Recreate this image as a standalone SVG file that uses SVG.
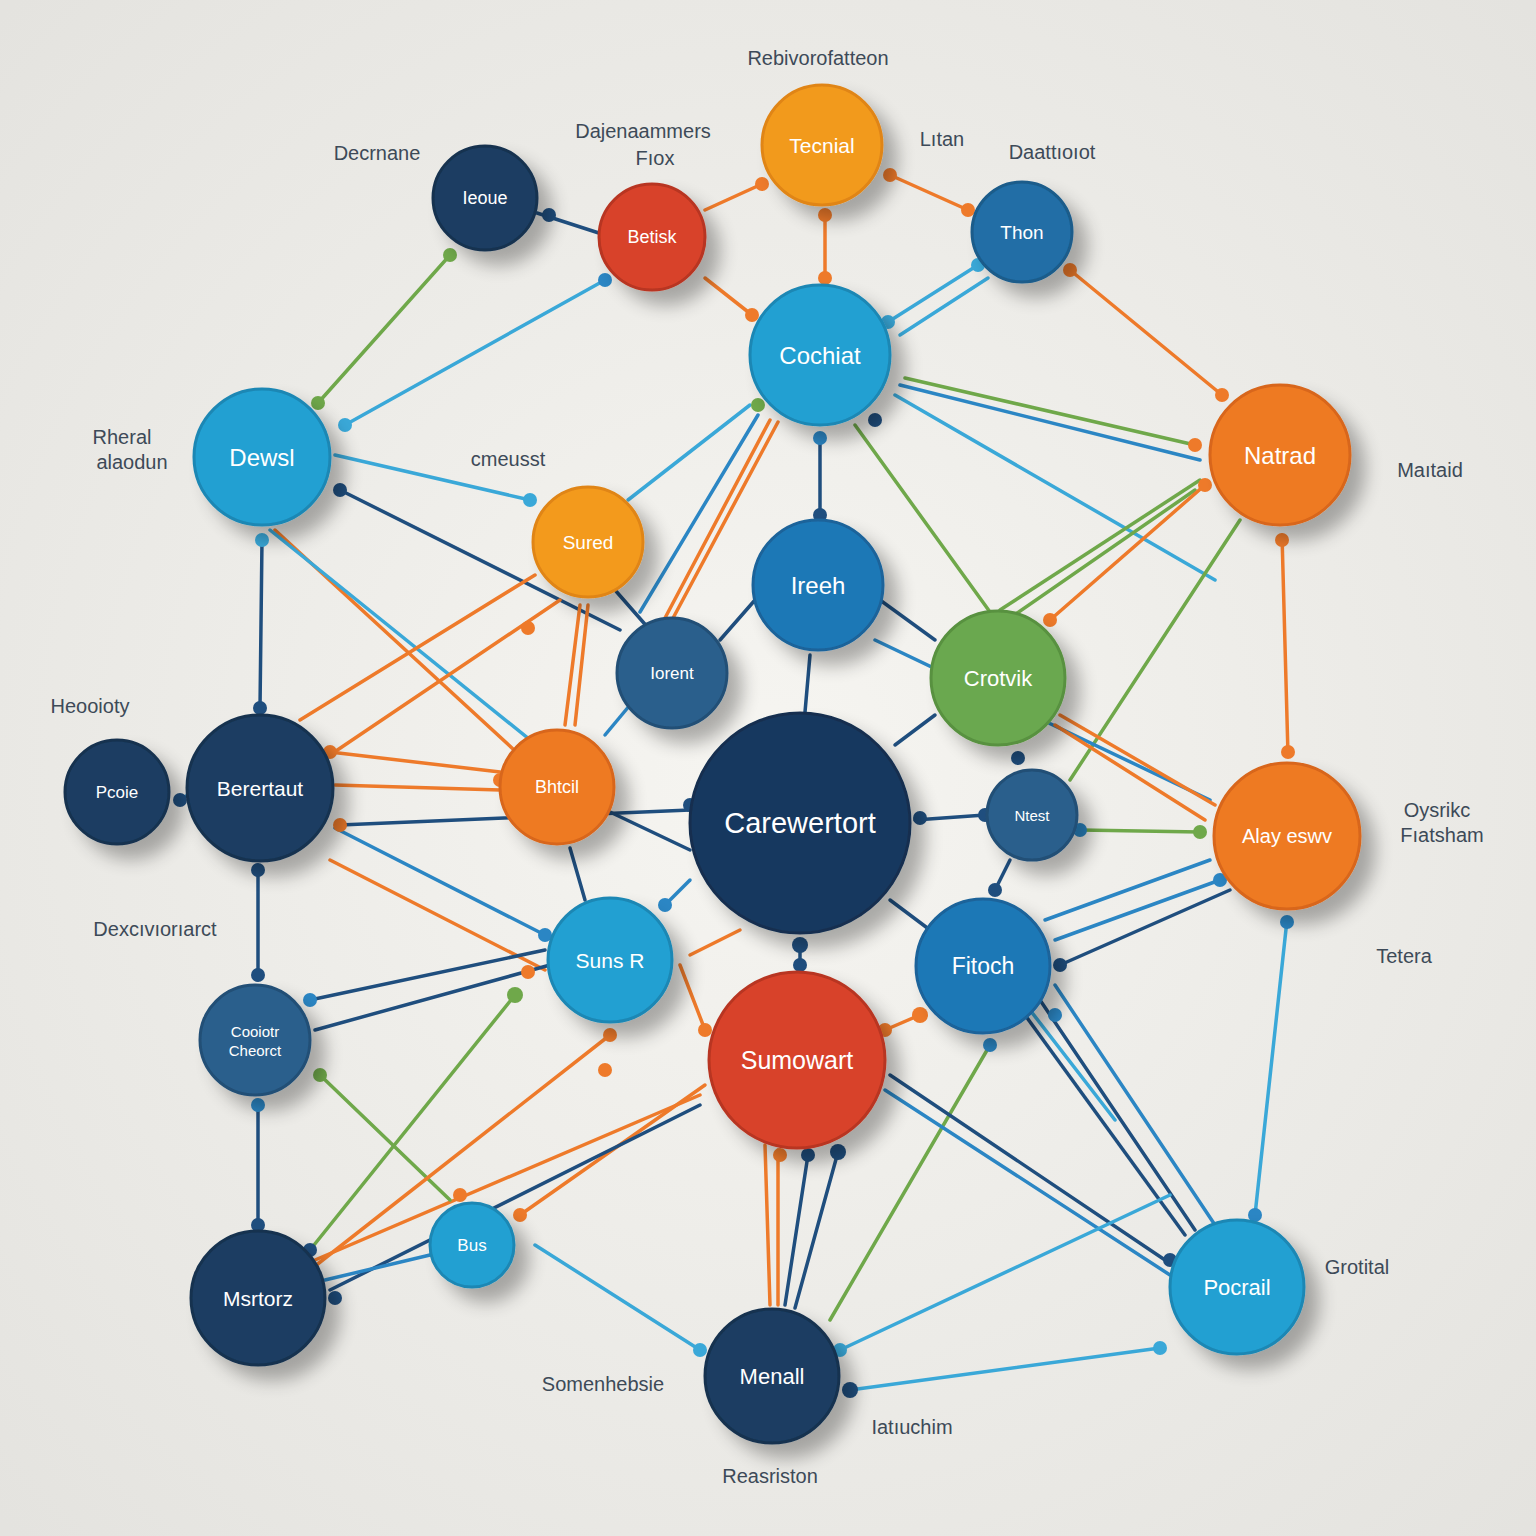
<svg xmlns="http://www.w3.org/2000/svg" width="1536" height="1536" viewBox="0 0 1536 1536">
<defs>
<radialGradient id="bg" cx="50%" cy="50%" r="70%"><stop offset="0" stop-color="#f6f5f1"/><stop offset="1" stop-color="#e4e3df"/></radialGradient>
<filter id="sh" x="-40%" y="-40%" width="190%" height="190%"><feGaussianBlur in="SourceAlpha" stdDeviation="9"/><feOffset dx="14" dy="14"/><feComponentTransfer><feFuncA type="linear" slope="0.3"/></feComponentTransfer><feMerge><feMergeNode/><feMergeNode in="SourceGraphic"/></feMerge></filter>
<style>
.n{filter:url(#sh);stroke-width:3}
.t{font-family:"Liberation Sans",Arial,sans-serif;fill:#fff;text-anchor:middle;dominant-baseline:central}
.l{font-family:"Liberation Sans",Arial,sans-serif;fill:#3d4a58;font-size:20px;text-anchor:middle}
.e line{stroke-width:3.5;stroke-linecap:round}
.nv{stroke:#1f4e7e}.bl{stroke:#2b86c4}.lb{stroke:#3aa8d8}.or{stroke:#ee7a2a}.gr{stroke:#6fa84a}
</style>
</defs>
<rect width="1536" height="1536" fill="url(#bg)"/>
<g id="connectors" class="e">
<line class="nv" x1="537" y1="213" x2="605" y2="235"/>
<line class="gr" x1="450" y1="255" x2="318" y2="403"/>
<line class="lb" x1="605" y1="280" x2="345" y2="425"/>
<line class="or" x1="705" y1="210" x2="762" y2="184"/>
<line class="or" x1="705" y1="278" x2="752" y2="315"/>
<line class="or" x1="825" y1="215" x2="825" y2="278"/>
<line class="or" x1="890" y1="175" x2="968" y2="210"/>
<line class="lb" x1="978" y1="265" x2="888" y2="322"/>
<line class="lb" x1="988" y1="278" x2="900" y2="335"/>
<line class="or" x1="1070" y1="270" x2="1222" y2="395"/>
<line class="gr" x1="905" y1="378" x2="1195" y2="445"/>
<line class="bl" x1="900" y1="385" x2="1200" y2="460"/>
<line class="lb" x1="895" y1="395" x2="1215" y2="580"/>
<line class="nv" x1="820" y1="438" x2="820" y2="515"/>
<line class="lb" x1="750" y1="405" x2="628" y2="500"/>
<line class="bl" x1="758" y1="415" x2="640" y2="612"/>
<line class="or" x1="770" y1="420" x2="665" y2="618"/>
<line class="or" x1="778" y1="422" x2="672" y2="620"/>
<line class="gr" x1="855" y1="425" x2="990" y2="612"/>
<line class="lb" x1="335" y1="455" x2="530" y2="500"/>
<line class="nv" x1="340" y1="490" x2="620" y2="630"/>
<line class="or" x1="275" y1="530" x2="525" y2="760"/>
<line class="lb" x1="270" y1="530" x2="555" y2="760"/>
<line class="nv" x1="262" y1="540" x2="260" y2="708"/>
<line class="or" x1="300" y1="720" x2="535" y2="575"/>
<line class="or" x1="330" y1="755" x2="560" y2="600"/>
<line class="nv" x1="615" y1="590" x2="650" y2="630"/>
<line class="or" x1="580" y1="605" x2="565" y2="725"/>
<line class="or" x1="588" y1="605" x2="575" y2="725"/>
<line class="gr" x1="1240" y1="520" x2="1070" y2="780"/>
<line class="gr" x1="1200" y1="480" x2="1000" y2="610"/>
<line class="gr" x1="1195" y1="490" x2="1010" y2="618"/>
<line class="or" x1="1205" y1="485" x2="1050" y2="620"/>
<line class="or" x1="1282" y1="535" x2="1288" y2="755"/>
<line class="nv" x1="810" y1="655" x2="805" y2="712"/>
<line class="nv" x1="755" y1="600" x2="720" y2="640"/>
<line class="nv" x1="880" y1="600" x2="935" y2="640"/>
<line class="bl" x1="875" y1="640" x2="1210" y2="800"/>
<line class="or" x1="1060" y1="715" x2="1215" y2="805"/>
<line class="or" x1="1055" y1="725" x2="1205" y2="820"/>
<line class="nv" x1="935" y1="715" x2="895" y2="745"/>
<line class="bl" x1="630" y1="705" x2="605" y2="735"/>
<line class="bl" x1="180" y1="800" x2="188" y2="795"/>
<line class="or" x1="330" y1="752" x2="500" y2="772"/>
<line class="or" x1="335" y1="785" x2="500" y2="790"/>
<line class="bl" x1="335" y1="828" x2="545" y2="935"/>
<line class="or" x1="330" y1="860" x2="545" y2="970"/>
<line class="nv" x1="340" y1="825" x2="690" y2="810"/>
<line class="nv" x1="258" y1="870" x2="258" y2="975"/>
<line class="nv" x1="610" y1="812" x2="690" y2="850"/>
<line class="nv" x1="570" y1="848" x2="585" y2="900"/>
<line class="nv" x1="915" y1="820" x2="985" y2="815"/>
<line class="nv" x1="800" y1="940" x2="800" y2="970"/>
<line class="nv" x1="890" y1="900" x2="930" y2="930"/>
<line class="bl" x1="690" y1="880" x2="665" y2="905"/>
<line class="gr" x1="1080" y1="830" x2="1200" y2="832"/>
<line class="nv" x1="1010" y1="860" x2="995" y2="890"/>
<line class="bl" x1="1045" y1="920" x2="1210" y2="860"/>
<line class="bl" x1="1055" y1="940" x2="1220" y2="880"/>
<line class="nv" x1="1060" y1="965" x2="1230" y2="890"/>
<line class="lb" x1="1287" y1="920" x2="1255" y2="1215"/>
<line class="or" x1="920" y1="1015" x2="885" y2="1030"/>
<line class="nv" x1="1040" y1="1000" x2="1195" y2="1230"/>
<line class="nv" x1="1025" y1="1015" x2="1185" y2="1235"/>
<line class="bl" x1="1055" y1="985" x2="1215" y2="1225"/>
<line class="lb" x1="1030" y1="1010" x2="1115" y2="1120"/>
<line class="gr" x1="990" y1="1045" x2="830" y2="1320"/>
<line class="or" x1="765" y1="1145" x2="770" y2="1305"/>
<line class="or" x1="778" y1="1150" x2="778" y2="1305"/>
<line class="nv" x1="808" y1="1155" x2="785" y2="1305"/>
<line class="nv" x1="838" y1="1152" x2="795" y2="1308"/>
<line class="or" x1="705" y1="1085" x2="520" y2="1215"/>
<line class="or" x1="700" y1="1095" x2="315" y2="1260"/>
<line class="nv" x1="700" y1="1105" x2="330" y2="1290"/>
<line class="nv" x1="890" y1="1075" x2="1165" y2="1260"/>
<line class="bl" x1="885" y1="1090" x2="1170" y2="1275"/>
<line class="nv" x1="545" y1="950" x2="310" y2="1000"/>
<line class="nv" x1="550" y1="965" x2="315" y2="1030"/>
<line class="or" x1="680" y1="965" x2="705" y2="1030"/>
<line class="or" x1="740" y1="930" x2="690" y2="955"/>
<line class="nv" x1="258" y1="1105" x2="258" y2="1225"/>
<line class="gr" x1="320" y1="1075" x2="450" y2="1200"/>
<line class="bl" x1="325" y1="1280" x2="430" y2="1255"/>
<line class="gr" x1="310" y1="1250" x2="515" y2="995"/>
<line class="or" x1="310" y1="1270" x2="610" y2="1035"/>
<line class="lb" x1="535" y1="1245" x2="700" y2="1350"/>
<line class="lb" x1="840" y1="1350" x2="1170" y2="1195"/>
<line class="lb" x1="850" y1="1390" x2="1160" y2="1348"/>
</g>
<g id="dots" fill="#2b86c4">
<circle cx="450" cy="255" r="7" fill="#6fa84a"/><circle cx="318" cy="403" r="7" fill="#6fa84a"/>
<circle cx="605" cy="280" r="7"/><circle cx="345" cy="425" r="7" fill="#3aa8d8"/>
<circle cx="762" cy="184" r="7" fill="#ee7a2a"/><circle cx="825" cy="278" r="7" fill="#ee7a2a"/><circle cx="825" cy="215" r="7" fill="#ee7a2a"/>
<circle cx="968" cy="210" r="7" fill="#ee7a2a"/><circle cx="890" cy="175" r="7" fill="#ee7a2a"/>
<circle cx="1070" cy="270" r="7" fill="#ee7a2a"/><circle cx="1222" cy="395" r="7" fill="#ee7a2a"/>
<circle cx="752" cy="315" r="7" fill="#ee7a2a"/><circle cx="549" cy="215" r="7" fill="#1f4e7e"/>
<circle cx="820" cy="438" r="7"/><circle cx="820" cy="515" r="7" fill="#1f4e7e"/>
<circle cx="530" cy="500" r="7" fill="#3aa8d8"/><circle cx="1195" cy="445" r="7" fill="#ee7a2a"/>
<circle cx="262" cy="540" r="7" fill="#3aa8d8"/><circle cx="260" cy="708" r="7" fill="#1f4e7e"/>
<circle cx="340" cy="490" r="7" fill="#1f4e7e"/><circle cx="528" cy="628" r="7" fill="#ee7a2a"/>
<circle cx="758" cy="405" r="7" fill="#6fa84a"/><circle cx="875" cy="420" r="7" fill="#1f4e7e"/>
<circle cx="1282" cy="540" r="7" fill="#ee7a2a"/><circle cx="1288" cy="752" r="7" fill="#ee7a2a"/>
<circle cx="1050" cy="620" r="7" fill="#ee7a2a"/><circle cx="1205" cy="485" r="7" fill="#ee7a2a"/>
<circle cx="500" cy="780" r="7" fill="#ee7a2a"/><circle cx="340" cy="825" r="7" fill="#ee7a2a"/>
<circle cx="330" cy="752" r="7" fill="#ee7a2a"/><circle cx="180" cy="800" r="7" fill="#1f4e7e"/>
<circle cx="258" cy="870" r="7" fill="#1f4e7e"/><circle cx="258" cy="975" r="7" fill="#1f4e7e"/>
<circle cx="545" cy="935" r="7"/><circle cx="528" cy="972" r="7" fill="#ee7a2a"/>
<circle cx="1200" cy="832" r="7" fill="#6fa84a"/><circle cx="1080" cy="830" r="7"/>
<circle cx="985" cy="815" r="7" fill="#1f4e7e"/><circle cx="920" cy="818" r="7" fill="#1f4e7e"/>
<circle cx="800" cy="945" r="8" fill="#1f4e7e"/><circle cx="800" cy="965" r="7" fill="#1f4e7e"/>
<circle cx="1287" cy="922" r="7"/><circle cx="1255" cy="1215" r="7"/>
<circle cx="920" cy="1015" r="8" fill="#ee7a2a"/><circle cx="885" cy="1030" r="7" fill="#ee7a2a"/>
<circle cx="990" cy="1045" r="7"/><circle cx="838" cy="1152" r="8" fill="#1f4e7e"/>
<circle cx="808" cy="1155" r="7" fill="#1f4e7e"/><circle cx="780" cy="1155" r="7" fill="#ee7a2a"/>
<circle cx="705" cy="1030" r="7" fill="#ee7a2a"/><circle cx="610" cy="1035" r="7" fill="#ee7a2a"/>
<circle cx="515" cy="995" r="8" fill="#6fa84a"/><circle cx="605" cy="1070" r="7" fill="#ee7a2a"/>
<circle cx="310" cy="1000" r="7"/><circle cx="320" cy="1075" r="7" fill="#6fa84a"/>
<circle cx="258" cy="1105" r="7"/><circle cx="258" cy="1225" r="7" fill="#1f4e7e"/>
<circle cx="520" cy="1215" r="7" fill="#ee7a2a"/><circle cx="460" cy="1195" r="7" fill="#ee7a2a"/>
<circle cx="310" cy="1250" r="7" fill="#1f4e7e"/><circle cx="335" cy="1298" r="7" fill="#1f4e7e"/>
<circle cx="700" cy="1350" r="7" fill="#3aa8d8"/><circle cx="850" cy="1390" r="8" fill="#1f4e7e"/>
<circle cx="840" cy="1350" r="7" fill="#3aa8d8"/><circle cx="1160" cy="1348" r="7" fill="#3aa8d8"/>
<circle cx="1170" cy="1260" r="7" fill="#1f4e7e"/><circle cx="1060" cy="965" r="7" fill="#1f4e7e"/>
<circle cx="1220" cy="880" r="7"/><circle cx="1055" cy="1015" r="7"/>
<circle cx="690" cy="805" r="7" fill="#1f4e7e"/><circle cx="665" cy="905" r="7"/>
<circle cx="1018" cy="758" r="7" fill="#1f4e7e"/><circle cx="995" cy="890" r="7" fill="#1f4e7e"/>
<circle cx="978" cy="265" r="7" fill="#3aa8d8"/><circle cx="888" cy="322" r="7" fill="#3aa8d8"/>
</g>
<g id="n1"><circle class="n" cx="485" cy="198" r="52" fill="#1b3d62" stroke="#16324f"/><text class="t" x="485" y="198" font-size="18">Ieoue</text></g>
<g id="n2"><circle class="n" cx="652" cy="237" r="53" fill="#d8432b" stroke="#b83520"/><text class="t" x="652" y="237" font-size="18">Betisk</text></g>
<g id="n3"><circle class="n" cx="822" cy="145" r="60" fill="#f29a1f" stroke="#e08516"/><text class="t" x="822" y="145" font-size="21">Tecnial</text></g>
<g id="n4"><circle class="n" cx="1022" cy="232" r="50" fill="#206ea6" stroke="#1a5b8a"/><text class="t" x="1022" y="232" font-size="19">Thon</text></g>
<g id="n5"><circle class="n" cx="820" cy="355" r="70" fill="#22a0d2" stroke="#1b87b4"/><text class="t" x="820" y="355" font-size="24">Cochiat</text></g>
<g id="n6"><circle class="n" cx="262" cy="457" r="68" fill="#22a0d2" stroke="#1b87b4"/><text class="t" x="262" y="457" font-size="24">Dewsl</text></g>
<g id="n7"><circle class="n" cx="588" cy="542" r="55" fill="#f39a1e" stroke="#e08516"/><text class="t" x="588" y="542" font-size="19">Sured</text></g>
<g id="n8"><circle class="n" cx="1280" cy="455" r="70" fill="#ee7a22" stroke="#d8661a"/><text class="t" x="1280" y="455" font-size="24">Natrad</text></g>
<g id="n9"><circle class="n" cx="818" cy="585" r="65" fill="#1f78b6" stroke="#1a639a"/><text class="t" x="818" y="585" font-size="24">Ireeh</text></g>
<g id="n10"><circle class="n" cx="672" cy="673" r="55" fill="#2a5f8c" stroke="#224f76"/><text class="t" x="672" y="673" font-size="17">Iorent</text></g>
<g id="n11"><circle class="n" cx="998" cy="678" r="67" fill="#6aa84f" stroke="#58913f"/><text class="t" x="998" y="678" font-size="22">Crotvik</text></g>
<g id="n12"><circle class="n" cx="117" cy="792" r="52" fill="#1b3d62" stroke="#16324f"/><text class="t" x="117" y="792" font-size="17">Pcoie</text></g>
<g id="n13"><circle class="n" cx="260" cy="788" r="73" fill="#1b3d62" stroke="#16324f"/><text class="t" x="260" y="788" font-size="21">Berertaut</text></g>
<g id="n14"><circle class="n" cx="557" cy="787" r="57" fill="#ee7a22" stroke="#d8661a"/><text class="t" x="557" y="787" font-size="18">Bhtcil</text></g>
<g id="n15"><circle class="n" cx="800" cy="823" r="110" fill="#17385e" stroke="#132f4f"/><text class="t" x="800" y="823" font-size="29">Carewertort</text></g>
<g id="n16"><circle class="n" cx="1032" cy="815" r="45" fill="#2a5f8c" stroke="#224f76"/><text class="t" x="1032" y="815" font-size="15">Ntest</text></g>
<g id="n17"><circle class="n" cx="1287" cy="836" r="73" fill="#ee7a22" stroke="#d8661a"/><text class="t" x="1287" y="836" font-size="20">Alay eswv</text></g>
<g id="n18"><circle class="n" cx="610" cy="960" r="62" fill="#22a0d2" stroke="#1b87b4"/><text class="t" x="610" y="960" font-size="21">Suns R</text></g>
<g id="n19"><circle class="n" cx="983" cy="966" r="67" fill="#1f78b6" stroke="#1a639a"/><text class="t" x="983" y="966" font-size="23">Fitoch</text></g>
<g id="n20"><circle class="n" cx="255" cy="1040" r="55" fill="#2a5f8c" stroke="#224f76"/><text class="t" x="255" y="1031" font-size="15">Cooiotr</text><text class="t" x="255" y="1050" font-size="15">Cheorct</text></g>
<g id="n21"><circle class="n" cx="797" cy="1060" r="88" fill="#d8432b" stroke="#b83520"/><text class="t" x="797" y="1060" font-size="25">Sumowart</text></g>
<g id="n22"><circle class="n" cx="472" cy="1245" r="42" fill="#22a0d2" stroke="#1b87b4"/><text class="t" x="472" y="1245" font-size="17">Bus</text></g>
<g id="n23"><circle class="n" cx="258" cy="1298" r="67" fill="#1b3d62" stroke="#16324f"/><text class="t" x="258" y="1298" font-size="21">Msrtorz</text></g>
<g id="n24"><circle class="n" cx="772" cy="1376" r="67" fill="#1b3d62" stroke="#16324f"/><text class="t" x="772" y="1376" font-size="22">Menall</text></g>
<g id="n25"><circle class="n" cx="1237" cy="1287" r="67" fill="#22a0d2" stroke="#1b87b4"/><text class="t" x="1237" y="1287" font-size="22">Pocrail</text></g>
<g id="labels">
<text class="l" x="818" y="65">Rebivorofatteon</text>
<text class="l" x="643" y="138">Dajenaammers</text><text class="l" x="655" y="165">Fıox</text>
<text class="l" x="942" y="146">Lıtan</text>
<text class="l" x="1052" y="159">Daattıoıot</text>
<text class="l" x="377" y="160">Decrnane</text>
<text class="l" x="122" y="444">Rheral</text><text class="l" x="132" y="469">alaodun</text>
<text class="l" x="508" y="466">cmeusst</text>
<text class="l" x="1430" y="477">Maıtaid</text>
<text class="l" x="90" y="713">Heooioty</text>
<text class="l" x="1437" y="817">Oysrikc</text><text class="l" x="1442" y="842">Fıatsham</text>
<text class="l" x="155" y="936">Dexcıvıorıarct</text>
<text class="l" x="1404" y="963">Tetera</text>
<text class="l" x="1357" y="1274">Grotital</text>
<text class="l" x="603" y="1391">Somenhebsie</text>
<text class="l" x="912" y="1434">Iatıuchim</text>
<text class="l" x="770" y="1483">Reasriston</text>
</g>
</svg>
